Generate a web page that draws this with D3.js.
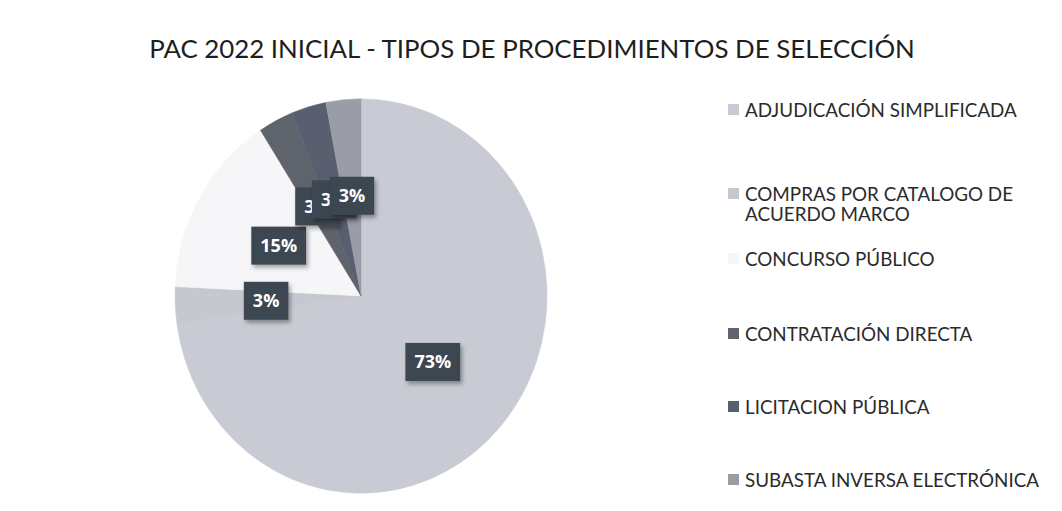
<!DOCTYPE html>
<html>
<head>
<meta charset="utf-8">
<script src="https://cdn.jsdelivr.net/npm/d3@7"></script>
<style>
  body { margin: 0; background: #fff; }
  svg { display: block; font-family: Lato, 'Open Sans', sans-serif; }
</style>
</head>
<body>
<svg id="chart" width="1062" height="511"></svg>
<script>
const title = 'PAC 2022 INICIAL - TIPOS DE PROCEDIMIENTOS DE SELECCIÓN'
const categories = [
  'ADJUDICACIÓN SIMPLIFICADA',
  'COMPRAS POR CATALOGO DE ACUERDO MARCO',
  'CONCURSO PÚBLICO',
  'CONTRATACIÓN DIRECTA',
  'LICITACION PÚBLICA',
  'SUBASTA INVERSA ELECTRÓNICA'
]
const counts = [24, 1, 5, 1, 1, 1]
const colors = ['#c9cbd4', '#c6c8d0', '#f6f6f8', '#5f636c', '#5a5f70', '#9a9ca6']

const svg = d3.select('#chart')
const cx = 361
const cy = 296
const R = 186
const squash = 1.06 // el escaneo estira el pastel en vertical

const defs = svg.append('defs')
const shadow = defs.append('filter').attr('id', 'sh')
  .attr('x', '-30%').attr('y', '-30%').attr('width', '160%').attr('height', '160%')
shadow.append('feDropShadow')
  .attr('dx', 2).attr('dy', 3).attr('stdDeviation', 2)
  .attr('flood-color', '#000').attr('flood-opacity', 0.35)

const data = categories.map((c, i) => ({ name: c, value: counts[i], color: colors[i] }))
const total = d3.sum(counts)
const pct = d3.format('.0%')

const pie = d3.pie().sort(null).value(d => d.value)
const arcs = pie(data)
const arc = d3.arc().innerRadius(0).outerRadius(R)
const labelArc = d3.arc().innerRadius(95).outerRadius(95)

const g = svg.append('g')
  .attr('transform', `translate(${cx}, ${cy}) scale(1, ${squash})`)
g.selectAll('path')
  .data(arcs)
  .enter()
  .append('path')
  .attr('d', arc)
  .attr('fill', d => d.data.color)
  .attr('stroke', d => d.data.color)
  .attr('stroke-width', 0.5)

// etiquetas de porcentaje: caja oscura con texto blanco
const labels = svg.append('g').attr('transform', `translate(${cx}, ${cy})`)
arcs.forEach(d => {
  const [x, y] = labelArc.centroid(d)
  const lg = labels.append('g').attr('transform', `translate(${x}, ${y * squash})`)
  const rect = lg.append('rect').attr('fill', '#3e4651').attr('filter', 'url(#sh)')
  const t = lg.append('text')
    .attr('text-anchor', 'middle')
    .attr('dy', '0.36em')
    .attr('fill', '#fff')
    .style('font-family', "'Open Sans', Lato, sans-serif")
    .style('font-weight', 700)
    .style('font-size', '18px')
    .text(pct(d.data.value / total))
  const w = t.node().getComputedTextLength() + 18
  rect.attr('x', -w / 2).attr('y', -19).attr('width', w).attr('height', 38)
})

// titulo
const titleText = svg.append('text')
  .attr('x', 532)
  .attr('y', 58)
  .attr('text-anchor', 'middle')
  .attr('fill', '#1e1e1e')
  .style('font-size', '24px')
  .text(title)
const tw = titleText.node().getComputedTextLength()
titleText.style('font-size', (24 * 766 / tw) + 'px')

// leyenda
const legendX = 728
const legendTextX = 745
const legendRows = [110, 194, 259, 334, 407, 480]
const lineGap = 20
const legend = svg.append('g')

// tamaño de fuente ajustado al ancho de la leyenda original
const probe = legend.append('text').style('font-size', '17px').text(categories[0])
const legendSize = 17 * 272 / probe.node().getComputedTextLength()
probe.remove()
const maxW = 300

data.forEach((d, i) => {
  const y = legendRows[i]
  legend.append('rect')
    .attr('x', legendX)
    .attr('y', y - 6)
    .attr('width', 11)
    .attr('height', 11)
    .attr('fill', d.color)
  const t = legend.append('text')
    .attr('x', legendTextX)
    .attr('y', y)
    .attr('dy', '0.35em')
    .attr('fill', '#2b2b2b')
    .style('font-size', legendSize + 'px')
  // partir en lineas si no cabe
  const words = d.name.split(' ')
  let line = []
  let ts = t.append('tspan').attr('x', legendTextX)
  words.forEach(w => {
    line.push(w)
    ts.text(line.join(' '))
    if (ts.node().getComputedTextLength() > maxW && line.length > 1) {
      line.pop()
      ts.text(line.join(' '))
      line = [w]
      ts = t.append('tspan').attr('x', legendTextX).attr('dy', lineGap).text(w)
    }
  })
})
</script>
</body>
</html>
